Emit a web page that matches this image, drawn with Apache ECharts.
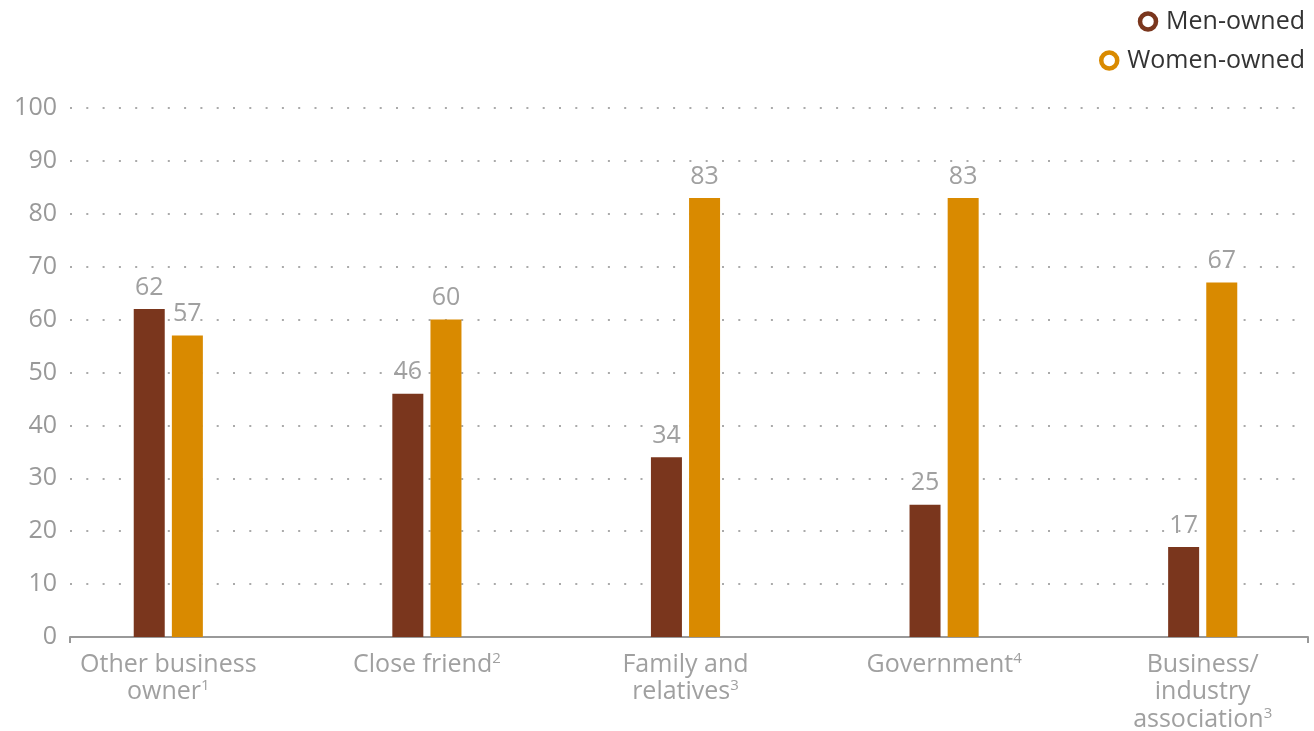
<!DOCTYPE html>
<html><head><meta charset="utf-8">
<script src="https://cdn.jsdelivr.net/npm/echarts@6/dist/echarts.min.js"></script>
<style>html,body{margin:0;padding:0;background:#fff}#c{width:1314px;height:731px}</style>
</head><body><div id="c"></div>
<script>
const categories = ['Other business\nowner', 'Close friend', 'Family and\nrelatives', 'Government', 'Business/\nindustry\nassociation'];
const footnotes = ['1', '2', '3', '4', '3'];
const menOwned = [62, 46, 34, 25, 17];
const womenOwned = [57, 60, 83, 83, 67];
const yTicks = [0, 10, 20, 30, 40, 50, 60, 70, 80, 90, 100];

const FONT = '"Open Sans", Lato, sans-serif';
const W = 'normal';
const FS = 25;
const gray = '#a0a0a0';
const chart = echarts.init(document.getElementById('c'));
const labelStyle = {show: true, position: 'top', distance: 9, color: gray, fontSize: FS, fontWeight: W, fontFamily: FONT};

chart.setOption({
  animation: false,
  textStyle: {fontFamily: FONT},
  legend: [
    {data: ['Men-owned'], right: 4, top: 4, itemWidth: 16, itemHeight: 16, itemGap: 0,
     icon: 'circle', textStyle: {fontSize: 25, color: '#333', fontWeight: W, fontFamily: FONT, padding: [0, 0, 0, 5]}},
    {data: ['Women-owned'], right: 4, top: 43, itemWidth: 16, itemHeight: 16, itemGap: 0,
     icon: 'circle', textStyle: {fontSize: 25, color: '#333', fontWeight: W, fontFamily: FONT, padding: [0, 0, 0, 5]}}
  ],
  grid: [
    {left: 70, right: 6, top: 108, bottom: 94, outerBoundsMode: 'none'},
    {left: 39, right: -18, top: 108, bottom: 94, outerBoundsMode: 'none'}
  ],
  xAxis: [
    {gridIndex: 0, type: 'value', min: 0, max: 1, interval: 1,
     axisLine: {show: true, lineStyle: {color: '#999', width: 2}},
     axisTick: {show: true, length: 6, inside: false, lineStyle: {color: '#999', width: 2}},
     axisLabel: {show: false}, splitLine: {show: false}},
    {gridIndex: 1, type: 'category', data: categories,
     axisLine: {show: false}, axisTick: {show: false},
     axisLabel: {
       interval: 0, hideOverlap: false,
       margin: 14, color: gray, fontSize: FS, fontWeight: W, fontFamily: FONT, lineHeight: 27.5,
       formatter: function (v, i) {
         const lines = v.split('\n');
         const last = lines.length - 1;
         return lines.map(function (l, k) {
           return k === last ? '{t|' + l + '}{s|' + footnotes[i] + '}' : '{t|' + l + '}';
         }).join('\n');
       },
       rich: {
         t: {fontSize: FS, color: gray, fontWeight: W, fontFamily: FONT, lineHeight: 27.5},
         s: {fontSize: 15, color: gray, fontWeight: W, fontFamily: FONT, lineHeight: 27.5, verticalAlign: 'top', padding: [0, 0, 8, 0]}
       }
     }}
  ],
  yAxis: [
    {gridIndex: 0, type: 'value', min: 0, max: 100, interval: 10,
     axisLine: {show: false}, axisTick: {show: false},
     axisLabel: {margin: 13, color: '#999', fontSize: FS, fontWeight: W, fontFamily: FONT,
       formatter: function (v) { return yTicks.indexOf(v) >= 0 ? String(v) : ''; }},
     splitLine: {show: true, lineStyle: {color: '#aaa', width: 2, type: [2, 14.3], dashOffset: 0}}},
    {gridIndex: 1, type: 'value', min: 0, max: 100, show: false}
  ],
  series: [
    {name: 'Men-owned', type: 'bar', xAxisIndex: 1, yAxisIndex: 1, data: menOwned,
     barWidth: 31, barGap: '23%', itemStyle: {color: '#7a361d'},
     label: labelStyle},
    {name: 'Women-owned', type: 'bar', xAxisIndex: 1, yAxisIndex: 1, data: womenOwned,
     barWidth: 31, barGap: '23%', itemStyle: {color: '#d98a00'},
     label: labelStyle}
  ]
});
chart.setOption({
  legend: [
    {itemStyle: {color: '#fff', borderColor: '#7a361d', borderWidth: 4.5}},
    {itemStyle: {color: '#fff', borderColor: '#d98a00', borderWidth: 4.5}}
  ]
});
</script></body></html>
